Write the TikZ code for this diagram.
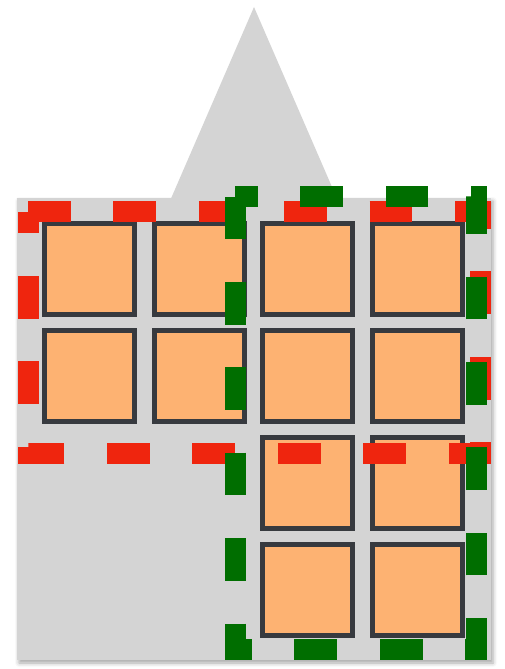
\documentclass[tikz,border=0pt]{standalone}
\usepackage{tikz}
\usepackage{xcolor}
\usetikzlibrary{shadows.blur}
\definecolor{cBack}{HTML}{D4D4D4}
\definecolor{cCell}{HTML}{FDB272}
\definecolor{cEdge}{HTML}{373A3F}
\definecolor{cRow}{HTML}{EF250E}
\definecolor{cCol}{HTML}{006E00}
\tikzset{
  blk/.style ={rectangle,draw=cEdge,fill=cCell,line width=5pt,inner sep=0pt,
               minimum width=90pt,minimum height=91pt},
  band/.style={line width=21pt,dash pattern=on 42.7pt off 42.7pt},
  rowband/.style={band,draw=cRow}, colband/.style={band,draw=cCol},
}

\begin{document}
\begin{tikzpicture}[x=1pt,y=-1pt]
\useasboundingbox (0,0) rectangle (504,669);
% backdrop: panel with a spike on top
\fill[cBack,blur shadow={shadow xshift=2pt,shadow yshift=-3pt,shadow blur radius=4pt,
      shadow opacity=35}] (17,198) rectangle (491,660);
\fill[cBack] (171,198.5) -- (254,7) -- (337,198.5) -- cycle;
% the blocks
\foreach \r/\y in {1/269,2/376}
  \foreach \c/\x in {1/89.5,2/199.5,3/307.5,4/417.5}
    \node[blk] (b\r\c) at (\x,\y) {};
\foreach \r/\y in {3/483,4/590}
  \foreach \c/\x in {3/307.5,4/417.5}
    \node[blk] (b\r\c) at (\x,\y) {};
% row band (top two rows) and column band (right two columns)
\coordinate (rA) at (28,211.5);  \coordinate (rB) at (480.5,453);
\coordinate (cA) at (235,196.5); \coordinate (cB) at (476.5,649.5);
\draw[rowband] (rA) -- (rA -| rB) -- (rB) -- (rB -| rA) -- cycle;
\draw[colband] (cA) -- (cB -| cA) -- (cB) -- (cA -| cB) -- cycle;
\end{tikzpicture}
\end{document}
